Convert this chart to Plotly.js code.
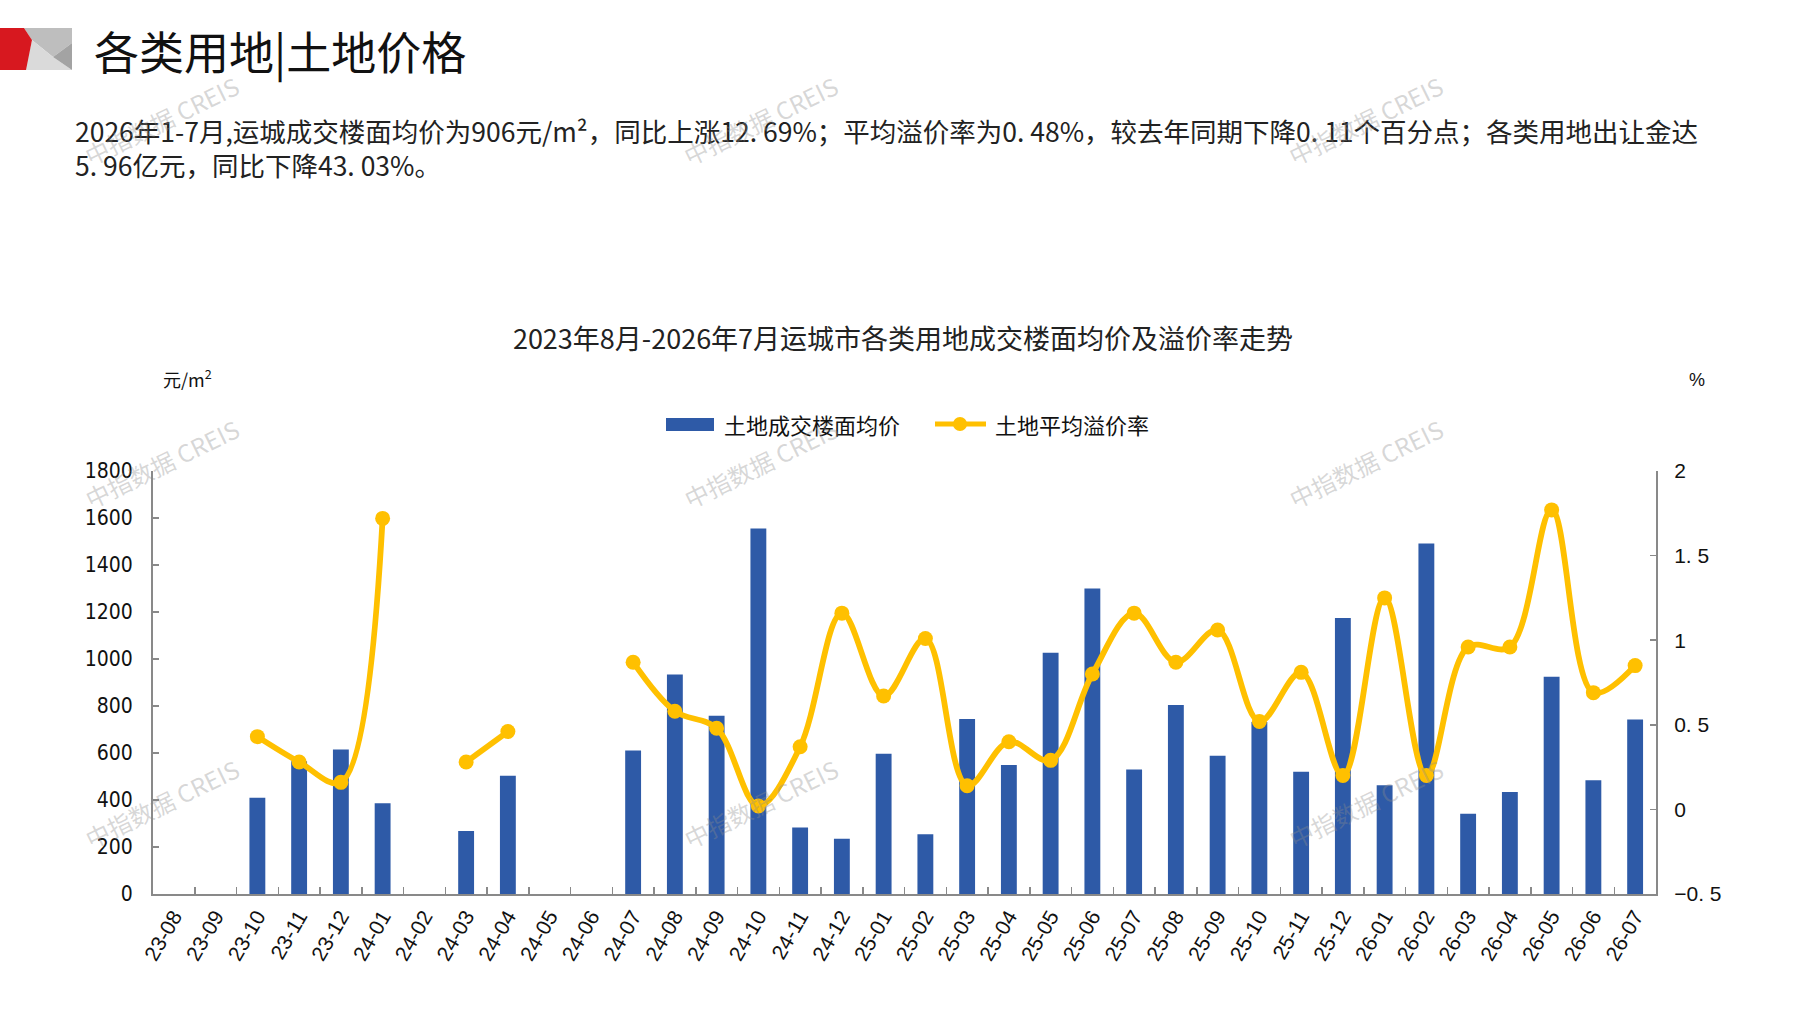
<!DOCTYPE html>
<html>
<head>
<meta charset="utf-8">
<script src="https://cdn.plot.ly/plotly-3.0.1.min.js"></script>
<style>
  html, body { margin: 0; padding: 0; background: #ffffff; }
  #chart { width: 1797px; height: 1010px; }
</style>
</head>
<body>
<div id="chart"></div>
<script>
// ---------------- data ----------------
const categories = ['23-08','23-09','23-10','23-11','23-12','24-01','24-02','24-03','24-04','24-05','24-06','24-07','24-08','24-09','24-10','24-11','24-12','25-01','25-02','25-03','25-04','25-05','25-06','25-07','25-08','25-09','25-10','25-11','25-12','26-01','26-02','26-03','26-04','26-05','26-06','26-07'];
const priceValues = [null,null,410,565,615,386,null,268,503,null,null,611,934,758,1555,283,235,597,254,745,549,1027,1300,530,804,588,732,520,1175,463,1491,342,434,924,484,743];
const premiumValues = [null,null,0.43,0.28,0.16,1.72,null,0.28,0.46,null,null,0.87,0.58,0.48,0.02,0.37,1.16,0.67,1.01,0.14,0.40,0.29,0.80,1.16,0.87,1.06,0.52,0.81,0.20,1.25,0.20,0.96,0.96,1.77,0.69,0.85];
const leftTickVals = [0,200,400,600,800,1000,1200,1400,1600,1800];
const rightTickVals = [-0.5,0,0.5,1,1.5,2];
const rightTickText = ['\u22120. 5','0','0. 5','1','1. 5','2'];
const seriesNames = ['土地成交楼面均价','土地平均溢价率'];
const chartTitle = '2023年8月-2026年7月运城市各类用地成交楼面均价及溢价率走势';
const pageHeading = '各类用地|土地价格';
const paraLine1 = '2026年1-7月,运城成交楼面均价为906元/m²，同比上涨12. 69%；平均溢价率为0. 48%，较去年同期下降0. 11个百分点；各类用地出让金达';
const paraLine2 = '5. 96亿元，同比下降43. 03%。';
const watermark = '中指数据 CREIS';

// ---------------- layout helpers ----------------
const W = 1797, H = 1010;
const PL = 153, PR = 1656, PT = 471, PB = 894;
const px = p => (p - PL) / (PR - PL);
const py = p => (PB - p) / (PB - PT);
const pathOf = pts => 'M' + pts.map(p => px(p[0]).toFixed(5) + ',' + py(p[1]).toFixed(5)).join(' L') + ' Z';

const BAR_COLOR = '#2E5AA7';
const LINE_COLOR = '#FFC000';
const AXIS_COLOR = '#898989';
const CJK = '"Noto Sans CJK SC", "Noto Sans", sans-serif';

const traces = [
  {
    type: 'bar', name: seriesNames[0], x: categories, y: priceValues,
    marker: { color: BAR_COLOR }, yaxis: 'y', showlegend: false,
    hovertemplate: '%{x}: %{y}<extra></extra>'
  },
  {
    type: 'scatter', mode: 'lines+markers', name: seriesNames[1], x: categories, y: premiumValues,
    yaxis: 'y2', connectgaps: false, showlegend: false,
    line: { color: LINE_COLOR, width: 5.8, shape: 'spline', smoothing: 1 },
    marker: { color: LINE_COLOR, size: 15 },
    hovertemplate: '%{x}: %{y}%<extra></extra>'
  }
];

const shapes = [
  // header icon
  { type: 'path', xref: 'paper', yref: 'paper', path: pathOf([[24,28],[72,28],[72,43],[53,57],[32,40]]), fillcolor: '#BEBEBE', line: { width: 0 } },
  { type: 'path', xref: 'paper', yref: 'paper', path: pathOf([[32,40],[53,57],[72,70],[25,70]]), fillcolor: '#DADADA', line: { width: 0 } },
  { type: 'path', xref: 'paper', yref: 'paper', path: pathOf([[53,57],[72,43],[72,70]]), fillcolor: '#A3A3A3', line: { width: 0 } },
  { type: 'path', xref: 'paper', yref: 'paper', path: pathOf([[0,28],[24,28],[32,40],[26,70],[0,70]]), fillcolor: '#D7181F', line: { width: 0 } },
  // legend swatches
  { type: 'rect', xref: 'paper', yref: 'paper', x0: px(666), x1: px(714), y0: py(431), y1: py(418), fillcolor: BAR_COLOR, line: { width: 0 } },
  { type: 'line', xref: 'paper', yref: 'paper', x0: px(935), x1: px(986), y0: py(424), y1: py(424), line: { color: LINE_COLOR, width: 5 } },
  { type: 'circle', xref: 'paper', yref: 'paper', x0: px(953), x1: px(967), y0: py(431), y1: py(417), fillcolor: LINE_COLOR, line: { width: 0 } }
];

const annotations = [
  { xref: 'paper', yref: 'paper', x: px(92), y: py(51), xanchor: 'left', yanchor: 'middle', showarrow: false,
    text: pageHeading, font: { family: CJK, size: 45, color: '#111111' } },
  { xref: 'paper', yref: 'paper', x: px(73), y: py(130), xanchor: 'left', yanchor: 'middle', showarrow: false,
    text: paraLine1, font: { family: CJK, size: 26.5, color: '#222222' } },
  { xref: 'paper', yref: 'paper', x: px(73), y: py(164), xanchor: 'left', yanchor: 'middle', showarrow: false,
    text: paraLine2, font: { family: CJK, size: 26.5, color: '#222222' } },
  { xref: 'paper', yref: 'paper', x: px(161), y: py(378), xanchor: 'left', yanchor: 'middle', showarrow: false,
    text: '元/m<sup>2</sup>', font: { family: CJK, size: 18, color: '#111111' } },
  { xref: 'paper', yref: 'paper', x: px(1697), y: py(380), xanchor: 'center', yanchor: 'middle', showarrow: false,
    text: '%', font: { family: 'Liberation Sans, Arial, sans-serif', size: 18, color: '#111111' } },
  { xref: 'paper', yref: 'paper', x: px(722), y: py(424), xanchor: 'left', yanchor: 'middle', showarrow: false,
    text: seriesNames[0], font: { family: CJK, size: 22, color: '#111111' } },
  { xref: 'paper', yref: 'paper', x: px(993), y: py(424), xanchor: 'left', yanchor: 'middle', showarrow: false,
    text: seriesNames[1], font: { family: CJK, size: 22, color: '#111111' } }
];

// watermarks
[[161,121],[760,121],[1365,121],[161,463],[760,463],[1365,463],[161,803],[760,803],[1365,803]].forEach(p => {
  annotations.push({ xref: 'paper', yref: 'paper', x: px(p[0]), y: py(p[1]), xanchor: 'center', yanchor: 'middle',
    showarrow: false, textangle: -26, text: watermark,
    font: { family: CJK, size: 24, color: 'rgba(140,140,140,0.35)' } });
});

const layout = {
  width: W, height: H,
  margin: { l: PL, r: W - PR, t: PT, b: H - PB, pad: 0 },
  paper_bgcolor: '#ffffff', plot_bgcolor: '#ffffff',
  showlegend: false,
  bargap: 0.62,
  title: { text: chartTitle, font: { family: CJK, size: 27, color: '#222222' },
           xref: 'paper', x: px(903), xanchor: 'center', yref: 'container', y: 1 - 340 / H, yanchor: 'middle' },
  xaxis: {
    type: 'category', range: [-0.5, categories.length - 0.5], autorange: false,
    showgrid: false, zeroline: false,
    showline: true, linecolor: AXIS_COLOR, linewidth: 2,
    ticks: 'inside', tickson: 'boundaries', ticklen: 7, tickcolor: AXIS_COLOR, tickwidth: 1.5,
    tickangle: -60, tickfont: { family: 'Liberation Sans, Arial, sans-serif', size: 21, color: '#111111' }
  },
  yaxis: {
    range: [0, 1800], autorange: false, tickvals: leftTickVals, showgrid: false, zeroline: false,
    showline: true, linecolor: AXIS_COLOR, linewidth: 2,
    ticks: 'inside', ticklen: 6, tickcolor: AXIS_COLOR, tickwidth: 1.5, ticklabelstandoff: 14,
    tickfont: { family: '"Liberation Sans Narrow", "DejaVu Sans Condensed", Arial, sans-serif', size: 21, color: '#111111' }
  },
  yaxis2: {
    overlaying: 'y', side: 'right', range: [-0.5, 2], autorange: false, tickvals: rightTickVals, ticktext: rightTickText,
    showgrid: false, zeroline: false,
    showline: true, linecolor: AXIS_COLOR, linewidth: 2,
    ticks: 'inside', ticklen: 6, tickcolor: AXIS_COLOR, tickwidth: 1.5, ticklabelstandoff: 12,
    tickfont: { family: 'Liberation Sans, Arial, sans-serif', size: 21, color: '#111111' }
  },
  shapes: shapes,
  annotations: annotations
};

Plotly.newPlot('chart', traces, layout, { displayModeBar: false, staticPlot: true });
</script>
</body>
</html>
